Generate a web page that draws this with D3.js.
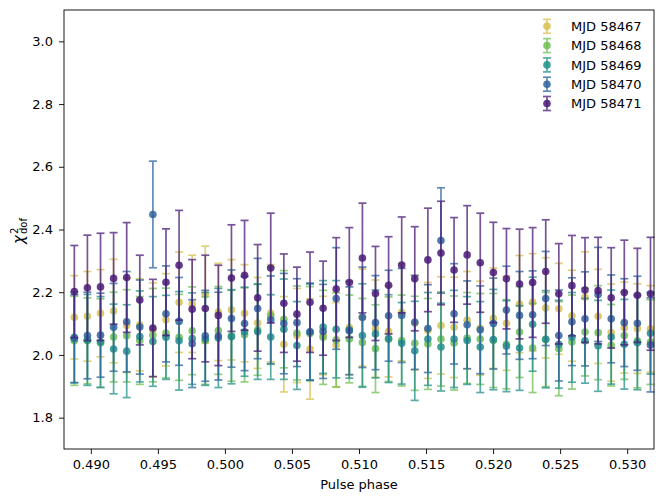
<!DOCTYPE html>
<html>
<head>
<meta charset="utf-8">
<script src="https://cdn.jsdelivr.net/npm/d3@7"></script>
<style>
body { margin: 0; background: #fff; }
text { font-family: "DejaVu Sans", sans-serif; }
</style>
</head>
<body>
<svg id="chart" width="664" height="499"></svg>
<script>
// phase bins (bin centres)
const phase = [0.488770, 0.489746, 0.490723, 0.491699, 0.492676, 0.493652, 0.494629, 0.495605, 0.496582,
    0.497559, 0.498535, 0.499512, 0.500488, 0.501465, 0.502441, 0.503418, 0.504395, 0.505371, 0.506348,
    0.507324, 0.508301, 0.509277, 0.510254, 0.511230, 0.512207, 0.513184, 0.514160, 0.515137, 0.516113,
    0.517090, 0.518066, 0.519043, 0.520020, 0.520996, 0.521973, 0.522949, 0.523926, 0.524902, 0.525879,
    0.526855, 0.527832, 0.528809, 0.529785, 0.530762, 0.531738];

const names = ['MJD 58467', 'MJD 58468', 'MJD 58469', 'MJD 58470', 'MJD 58471'];
const colors = ['#d8c150', '#6fbf55', '#22918a', '#2e659c', '#4a1a78'];

const val58467 = [2.120, 2.123, 2.133, 2.140, 2.094, 2.096, 2.080, 2.112, 2.168, 2.163, 2.192, 2.137, 2.144, 2.133, 2.102,
    2.133, 2.034, 2.062, 2.019, 2.062, 2.032, 2.087, 2.119, 2.084, 2.075, 2.136, 2.102, 2.078, 2.094, 2.088,
    2.111, 2.085, 2.117, 2.101, 2.162, 2.168, 2.150, 2.147, 2.125, 2.184, 2.123, 2.071, 2.087, 2.084, 2.083];
const err58467 = [0.133, 0.143, 0.139, 0.165, 0.150, 0.147, 0.150, 0.147, 0.160, 0.155, 0.155, 0.155, 0.160, 0.155, 0.145,
    0.155, 0.152, 0.150, 0.160, 0.125, 0.135, 0.150, 0.155, 0.155, 0.145, 0.155, 0.150, 0.153, 0.155, 0.160,
    0.155, 0.150, 0.160, 0.150, 0.155, 0.155, 0.160, 0.145, 0.145, 0.145, 0.150, 0.155, 0.145, 0.143, 0.138];

const val58468 = [2.045, 2.045, 2.038, 2.057, 2.061, 2.046, 2.063, 2.070, 2.056, 2.077, 2.046, 2.078, 2.061, 2.064, 2.080,
    2.125, 2.114, 2.070, 2.068, 2.056, 2.048, 2.051, 2.040, 2.020, 2.050, 2.046, 2.037, 2.035, 2.051, 2.038,
    2.054, 2.051, 2.046, 2.034, 2.073, 2.022, 2.049, 2.020, 2.041, 2.073, 2.071, 2.031, 2.062, 2.045, 2.041];
const err58468 = [0.142, 0.137, 0.141, 0.143, 0.147, 0.140, 0.149, 0.143, 0.137, 0.140, 0.140, 0.140, 0.145, 0.150, 0.145,
    0.155, 0.155, 0.150, 0.150, 0.150, 0.150, 0.140, 0.140, 0.140, 0.135, 0.145, 0.150, 0.145, 0.150, 0.150,
    0.145, 0.145, 0.150, 0.142, 0.145, 0.142, 0.150, 0.150, 0.150, 0.140, 0.150, 0.130, 0.140, 0.150, 0.135];

const val58469 = [2.056, 2.048, 2.041, 2.019, 2.012, 2.059, 2.043, 2.056, 2.045, 2.052, 2.051, 2.054, 2.058, 2.074, 2.074,
    2.057, 2.082, 2.030, 2.073, 2.089, 2.082, 2.080, 2.062, 2.067, 2.052, 2.037, 2.013, 2.051, 2.025, 2.051,
    2.046, 2.025, 2.049, 2.028, 2.022, 2.098, 2.050, 2.034, 2.056, 2.045, 2.029, 2.057, 2.034, 2.039, 2.069];
const err58469 = [0.145, 0.145, 0.145, 0.143, 0.148, 0.145, 0.143, 0.134, 0.157, 0.146, 0.148, 0.158, 0.150, 0.142, 0.152,
    0.135, 0.160, 0.140, 0.153, 0.148, 0.155, 0.154, 0.165, 0.140, 0.140, 0.130, 0.158, 0.148, 0.140, 0.155,
    0.140, 0.145, 0.160, 0.145, 0.135, 0.150, 0.155, 0.140, 0.143, 0.135, 0.145, 0.150, 0.143, 0.150, 0.130];

const val58470 = [2.052, 2.062, 2.063, 2.088, 2.106, 2.089, 2.448, 2.131, 2.107, 2.036, 2.061, 2.060, 2.116, 2.100, 2.148,
    2.112, 2.100, 2.103, 2.074, 2.075, 2.180, 2.077, 2.120, 2.103, 2.125, 2.126, 2.104, 2.084, 2.365, 2.131,
    2.096, 2.080, 2.100, 2.143, 2.126, 2.128, 2.180, 2.062, 2.106, 2.115, 2.193, 2.115, 2.103, 2.101, 2.032];
const err58470 = [0.140, 0.138, 0.134, 0.140, 0.160, 0.150, 0.170, 0.153, 0.140, 0.140, 0.145, 0.140, 0.155, 0.150, 0.160,
    0.140, 0.160, 0.140, 0.155, 0.150, 0.162, 0.140, 0.160, 0.150, 0.145, 0.150, 0.150, 0.140, 0.168, 0.160,
    0.140, 0.140, 0.145, 0.140, 0.140, 0.140, 0.150, 0.145, 0.140, 0.150, 0.150, 0.140, 0.140, 0.150, 0.150];

const val58471 = [2.202, 2.214, 2.217, 2.244, 2.247, 2.175, 2.086, 2.232, 2.286, 2.146, 2.148, 2.126, 2.245, 2.254, 2.182,
    2.277, 2.165, 2.130, 2.168, 2.149, 2.210, 2.231, 2.309, 2.196, 2.222, 2.287, 2.243, 2.303, 2.325, 2.271,
    2.319, 2.294, 2.263, 2.243, 2.226, 2.231, 2.266, 2.195, 2.221, 2.207, 2.205, 2.182, 2.199, 2.190, 2.195];
const err58471 = [0.147, 0.168, 0.171, 0.146, 0.175, 0.143, 0.155, 0.170, 0.175, 0.158, 0.170, 0.160, 0.170, 0.175, 0.170,
    0.175, 0.157, 0.150, 0.160, 0.150, 0.164, 0.175, 0.175, 0.150, 0.155, 0.153, 0.166, 0.165, 0.165, 0.167,
    0.157, 0.158, 0.160, 0.160, 0.175, 0.175, 0.165, 0.160, 0.160, 0.167, 0.170, 0.160, 0.167, 0.150, 0.180];

const xTicks = [0.490, 0.495, 0.500, 0.505, 0.510, 0.515, 0.520, 0.525, 0.530];
const yTicks = [1.8, 2.0, 2.2, 2.4, 2.6, 2.8, 3.0];

const series = [
    { name: names[0], color: colors[0], val: val58467, err: err58467 },
    { name: names[1], color: colors[1], val: val58468, err: err58468 },
    { name: names[2], color: colors[2], val: val58469, err: err58469 },
    { name: names[3], color: colors[3], val: val58470, err: err58470 },
    { name: names[4], color: colors[4], val: val58471, err: err58471 },
];

let svg = d3.select('#chart');
let mLeft = 64, mRight = 654, mTop = 10, mBottom = 449;
let cap = 4;

let x = d3.scaleLinear().domain([0.488, 0.532]).range([mLeft, mRight]);
let y = d3.scaleLinear().domain([1.7, 3.1]).range([mBottom, mTop]);

// error bars, one series after the other so later ones sit on top
series.forEach(s => {
    let g = svg.append('g').attr('class', 'series');
    let pts = phase.map((p, i) => ({ p: p, v: s.val[i], e: s.err[i] }));
    let bars = g.append('g')
        .attr('stroke', s.color)
        .attr('stroke-width', 1.7)
        .attr('opacity', 0.75);
    pts.forEach(d => {
        bars.append('line')
            .attr('x1', x(d.p)).attr('x2', x(d.p))
            .attr('y1', y(d.v - d.e)).attr('y2', y(d.v + d.e));
        [d.v - d.e, d.v + d.e].forEach(c => {
            bars.append('line')
                .attr('x1', x(d.p) - cap).attr('x2', x(d.p) + cap)
                .attr('y1', y(c)).attr('y2', y(c));
        });
    });
    g.selectAll('circle')
        .data(pts)
        .enter()
        .append('circle')
        .attr('cx', d => x(d.p))
        .attr('cy', d => y(d.v))
        .attr('r', 3.8)
        .attr('fill', s.color)
        .attr('opacity', 0.85);
});

// axes
let xAxis = d3.axisBottom(x)
    .tickValues(xTicks)
    .tickFormat(d3.format('.3f'))
    .tickSize(5)
    .tickSizeOuter(0)
    .tickPadding(6);
let yAxis = d3.axisLeft(y)
    .tickValues(yTicks)
    .tickFormat(d3.format('.1f'))
    .tickSize(5)
    .tickSizeOuter(0)
    .tickPadding(6);

let gx = svg.append('g').attr('transform', 'translate(0,' + mBottom + ')').call(xAxis);
let gy = svg.append('g').attr('transform', 'translate(' + mLeft + ',0)').call(yAxis);
[gx, gy].forEach(a => {
    a.select('.domain').remove();
    a.selectAll('text').style('font-size', '13px').attr('fill', '#000').style('font-family', '"DejaVu Sans", sans-serif');
    a.selectAll('line').attr('stroke', '#000').attr('stroke-width', 0.9);
});

// frame
svg.append('rect')
    .attr('x', mLeft).attr('y', mTop)
    .attr('width', mRight - mLeft).attr('height', mBottom - mTop)
    .attr('fill', 'none')
    .attr('stroke', '#000')
    .attr('stroke-width', 0.9);

// axis labels
svg.append('text')
    .attr('x', (mLeft + mRight) / 2)
    .attr('y', 489)
    .attr('text-anchor', 'middle')
    .style('font-size', '13px')
    .text('Pulse phase');

let yl = svg.append('g').attr('transform', 'translate(24,229) rotate(-90)');
yl.append('text')
    .attr('x', -15).attr('y', 0)
    .style('font-size', '15px')
    .style('font-style', 'italic')
    .text('χ');
yl.append('text')
    .attr('x', -5).attr('y', -6)
    .style('font-size', '10px')
    .text('2');
yl.append('text')
    .attr('x', -5).attr('y', 3)
    .style('font-size', '10px')
    .text('dof');

// legend
let legend = svg.append('g');
series.forEach((s, i) => {
    let row = legend.append('g').attr('transform', 'translate(547,' + (26.3 + i * 19.3) + ')');
    let b = row.append('g').attr('stroke', s.color).attr('stroke-width', 1.7).attr('opacity', 0.75);
    b.append('line').attr('x1', 0).attr('x2', 0).attr('y1', -7).attr('y2', 7);
    b.append('line').attr('x1', -cap).attr('x2', cap).attr('y1', -7).attr('y2', -7);
    b.append('line').attr('x1', -cap).attr('x2', cap).attr('y1', 7).attr('y2', 7);
    row.append('circle').attr('r', 3.8).attr('fill', s.color).attr('opacity', 0.85);
    row.append('text')
        .attr('x', 24)
        .attr('dy', '0.36em')
        .style('font-size', '13px')
        .text(s.name);
});
</script>
</body>
</html>
